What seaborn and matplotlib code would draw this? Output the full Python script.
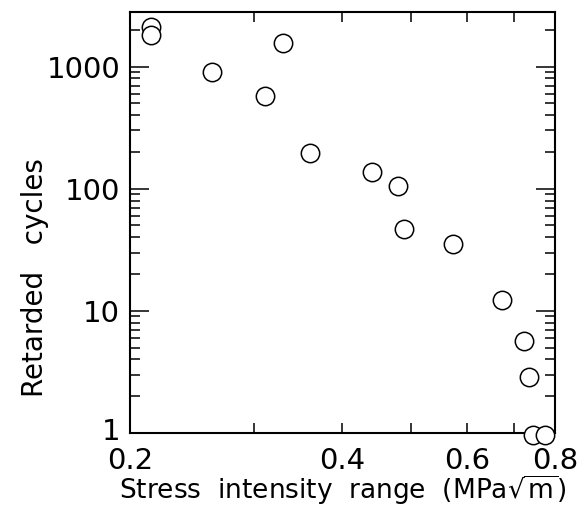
import numpy as np
import pandas as pd
import matplotlib
matplotlib.use('Agg')
import matplotlib.pyplot as plt
import matplotlib.transforms as mtransforms
import seaborn as sns
from matplotlib.ticker import FixedLocator, FixedFormatter, NullFormatter

# 数据
stress_range = [0.214, 0.214, 0.261, 0.311, 0.329, 0.360, 0.440, 0.480,
                0.489, 0.574, 0.674, 0.723, 0.734, 0.745, 0.774]
retarded_cycles = [2130, 1800, 910, 570, 1560, 196, 137, 106,
                   47, 35, 12.3, 5.7, 2.86, 0.97, 0.97]

x_major = [0.2, 0.4, 0.6, 0.8]
x_major_labels = ['0.2', '0.4', '0.6', '0.8']
x_minor = [0.3, 0.5, 0.7]
y_major = [1, 10, 100, 1000]
y_major_labels = ['1', '10', '100', '1000']

df = pd.DataFrame({'stress': stress_range, 'cycles': retarded_cycles})

sns.set_style('ticks')
plt.rcParams['font.family'] = ['DejaVu Sans']
plt.rcParams['text.color'] = 'black'
plt.rcParams['axes.labelcolor'] = 'black'
plt.rcParams['xtick.color'] = 'black'
plt.rcParams['ytick.color'] = 'black'

fig = plt.figure(figsize=(5.84, 5.17), dpi=100)
ax = fig.add_axes([0.2226, 0.1625, 0.7277, 0.8143])

sns.scatterplot(data=df, x='stress', y='cycles', ax=ax, marker='o', s=175,
                facecolor='white', edgecolor='black', linewidth=1.1,
                clip_on=False, zorder=5, legend=False)

ax.set_xscale('log')
ax.set_yscale('log')
ax.set_xlim(0.2, 0.8)
ax.set_ylim(1, 2800)

ax.xaxis.set_major_locator(FixedLocator(x_major))
ax.xaxis.set_major_formatter(FixedFormatter(x_major_labels))
ax.xaxis.set_minor_locator(FixedLocator(x_minor))
ax.xaxis.set_minor_formatter(NullFormatter())

y_minor = [m * 10 ** d for d in range(4) for m in range(2, 10) if m * 10 ** d < 2800]
ax.yaxis.set_major_locator(FixedLocator(y_major))
ax.yaxis.set_major_formatter(FixedFormatter(y_major_labels))
ax.yaxis.set_minor_locator(FixedLocator(y_minor))
ax.yaxis.set_minor_formatter(NullFormatter())

for s in ax.spines.values():
    s.set_linewidth(1.5)
    s.set_color('black')

ax.tick_params(which='both', direction='in', top=True, right=True,
               width=1.1, labelsize=21, labelcolor='black')
ax.tick_params(axis='x', which='both', length=7, pad=10)
ax.tick_params(axis='y', which='major', length=14, pad=7)
ax.tick_params(axis='y', which='minor', length=7)

# "1" 标签稍微上移，避免与 0.2 重叠
lbl = ax.get_yticklabels()[0]
lbl.set_transform(lbl.get_transform() + mtransforms.ScaledTranslation(0, 3 / 72, fig.dpi_scale_trans))

ax.set_xlabel(r'Stress  intensity  range  (MPa$\sqrt{\mathrm{m}}$)', fontsize=19)
ax.xaxis.set_label_coords(0.5, -0.095)
ax.set_ylabel('Retarded   cycles', fontsize=20)
ax.yaxis.set_label_coords(-0.19, 0.37)

fig.savefig('out.png', dpi=100)
